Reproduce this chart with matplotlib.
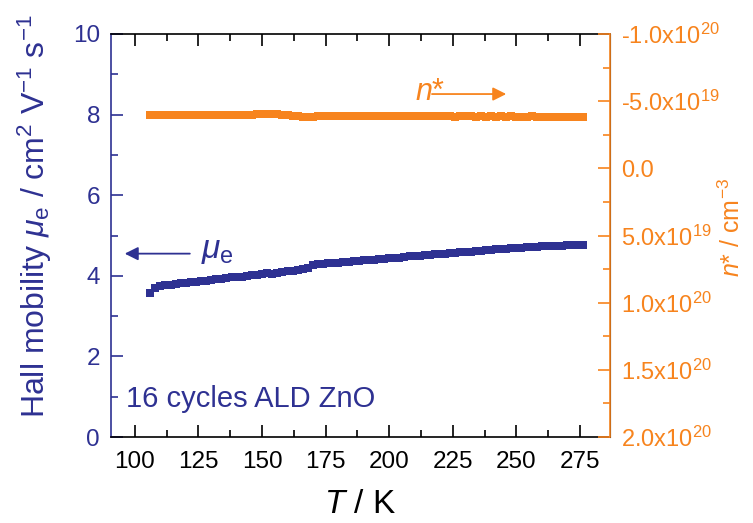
import matplotlib
matplotlib.use("Agg")
import matplotlib.pyplot as plt
from matplotlib.ticker import FixedLocator, MultipleLocator

plt.rcParams['font.family'] = ['Liberation Sans', 'DejaVu Sans']
plt.rcParams['mathtext.fontset'] = 'custom'
plt.rcParams['mathtext.rm'] = 'Liberation Sans'
plt.rcParams['mathtext.it'] = 'Liberation Sans:italic'
plt.rcParams['mathtext.bf'] = 'Liberation Sans:bold'

BLUE = '#2e3192'
ORANGE = '#f7841e'

# temperature (K)
T = [106, 108, 110, 112, 114, 116, 118, 120, 122, 124, 126, 128, 130, 132, 134,
     136, 138, 140, 142, 144, 146, 148, 150, 152, 154, 156, 158, 160, 162, 164,
     166, 168, 170, 172, 174, 176, 178, 180, 182, 184, 186, 188, 190, 192, 194,
     196, 198, 200, 202, 204, 206, 208, 210, 212, 214, 216, 218, 220, 222, 224,
     226, 228, 230, 232, 234, 236, 238, 240, 242, 244, 246, 248, 250, 252, 254,
     256, 258, 260, 262, 264, 266, 268, 270, 272, 274, 276]

# Hall mobility (cm2/Vs)
mu_e = [3.57, 3.70, 3.74, 3.76, 3.78, 3.79, 3.81, 3.82, 3.84, 3.85, 3.87, 3.88,
        3.90, 3.91, 3.93, 3.94, 3.96, 3.98, 3.97, 4.00, 4.02, 4.01, 4.04, 4.06,
        4.05, 4.08, 4.10, 4.12, 4.13, 4.15, 4.17, 4.19, 4.28, 4.30, 4.29, 4.31,
        4.33, 4.32, 4.34, 4.35, 4.37, 4.36, 4.38, 4.39, 4.40, 4.41, 4.42, 4.43,
        4.44, 4.45, 4.47, 4.48, 4.49, 4.50, 4.51, 4.52, 4.53, 4.54, 4.55, 4.56,
        4.57, 4.58, 4.59, 4.60, 4.61, 4.62, 4.63, 4.65, 4.66, 4.67, 4.66, 4.68,
        4.69, 4.70, 4.71, 4.71, 4.72, 4.73, 4.74, 4.74, 4.75, 4.75, 4.76, 4.76,
        4.77, 4.77]

# carrier density n* (cm^-3)
n_star = [-4.00e19, -3.96e19, -3.95e19, -3.95e19, -3.94e19, -3.95e19, -3.94e19,
          -3.95e19, -3.95e19, -3.94e19, -3.95e19, -3.96e19, -3.95e19, -3.96e19,
          -3.97e19, -3.96e19, -3.97e19, -3.97e19, -3.98e19, -3.99e19, -3.98e19,
          -4.01e19, -4.03e19, -4.05e19, -4.06e19, -4.05e19, -4.00e19, -3.95e19,
          -3.92e19, -3.88e19, -3.85e19, -3.82e19, -3.83e19, -3.86e19, -3.87e19,
          -3.86e19, -3.88e19, -3.87e19, -3.88e19, -3.87e19, -3.88e19, -3.86e19,
          -3.87e19, -3.88e19, -3.87e19, -3.88e19, -3.87e19, -3.88e19, -3.87e19,
          -3.86e19, -3.87e19, -3.88e19, -3.87e19, -3.86e19, -3.87e19, -3.86e19,
          -3.87e19, -3.86e19, -3.87e19, -3.86e19, -3.85e19, -3.86e19, -3.87e19,
          -3.86e19, -3.85e19, -3.86e19, -3.85e19, -3.86e19, -3.85e19, -3.86e19,
          -3.85e19, -3.86e19, -3.85e19, -3.84e19, -3.85e19, -3.86e19, -3.85e19,
          -3.84e19, -3.85e19, -3.84e19, -3.85e19, -3.84e19, -3.85e19, -3.84e19,
          -3.85e19, -3.84e19]

n_ticks = [-1.0e20, -5.0e19, 0.0, 5.0e19, 1.0e20, 1.5e20, 2.0e20]
n_labels = [r'-1.0x10$^{20}$', r'-5.0x10$^{19}$', '0.0', r'5.0x10$^{19}$',
            r'1.0x10$^{20}$', r'1.5x10$^{20}$', r'2.0x10$^{20}$']

fig = plt.figure(figsize=(7.53, 5.23), dpi=100)
ax = fig.add_axes([0.1474, 0.1644, 0.6627, 0.7706])
ax2 = ax.twinx()

ax.plot(T, mu_e, 's', color=BLUE, markersize=5.8, markeredgewidth=0)
ax2.plot(T, n_star, 's', color=ORANGE, markersize=5.8, markeredgewidth=0)

ax.set_xlim(90.6, 286.8)
ax.set_ylim(0, 10)
ax2.set_ylim(2.0e20, -1.0e20)

ax.xaxis.set_major_locator(MultipleLocator(25))
ax.xaxis.set_minor_locator(MultipleLocator(12.5))
ax.yaxis.set_major_locator(MultipleLocator(2))
ax.yaxis.set_minor_locator(MultipleLocator(1))
ax2.yaxis.set_major_locator(FixedLocator(n_ticks))
ax2.yaxis.set_minor_locator(MultipleLocator(2.5e19))
ax2.set_yticklabels(n_labels)

ax.tick_params(which='both', direction='in', top=True, right=False, width=1.2)
ax.tick_params(which='major', length=8.5, labelsize=17.5)
ax.tick_params(which='minor', length=5)
ax.tick_params(axis='y', which='both', colors=BLUE, pad=8)
ax.tick_params(axis='x', which='both', colors='black', pad=10)
ax2.tick_params(which='both', direction='in', colors=ORANGE, width=1.2)
ax2.tick_params(which='major', length=8.5, labelsize=17, pad=8)
ax2.tick_params(which='minor', length=5)

for s in ['top', 'bottom']:
    ax.spines[s].set_color('black')
    ax.spines[s].set_linewidth(1.2)
ax.spines['left'].set_color(BLUE)
ax.spines['left'].set_linewidth(1.2)
for s in ['left', 'top', 'bottom']:
    ax2.spines[s].set_visible(False)
ax2.spines['right'].set_color(ORANGE)
ax2.spines['right'].set_linewidth(1.2)

ax.set_xlabel(r'$T$ / K', fontsize=24)
ax.xaxis.set_label_coords(0.5, -0.13)
ax.set_ylabel(r'Hall mobility $\mu_\mathrm{e}$ / cm$^2$ V$^{-1}$ s$^{-1}$',
              fontsize=23, color=BLUE)
ax.yaxis.set_label_coords(-0.115, 0.548)
ax2.set_ylabel(r'$n$* / cm$^{-3}$', fontsize=18, color=ORANGE)
ax2.yaxis.set_label_coords(1.217, 0.52)

ax.text(96.5, 0.94, '16 cycles ALD ZnO', color=BLUE, fontsize=21, va='center')

head = '-|>,head_length=0.8,head_width=0.4'
ax.annotate('', xy=(96, 4.55), xytext=(121.6, 4.55),
            arrowprops=dict(arrowstyle=head, color=BLUE, lw=1.3,
                            shrinkA=0, shrinkB=0))
ax.text(126, 4.62, r'$\mu_\mathrm{e}$', color=BLUE, fontsize=24, va='center')

ax.annotate('', xy=(246, 8.51), xytext=(216.8, 8.51),
            arrowprops=dict(arrowstyle=head, color=ORANGE, lw=1.3,
                            shrinkA=0, shrinkB=0))
ax.text(222, 8.55, r'$n$*', color=ORANGE, fontsize=22, va='center', ha='right')

fig.savefig('out.png', dpi=100)
